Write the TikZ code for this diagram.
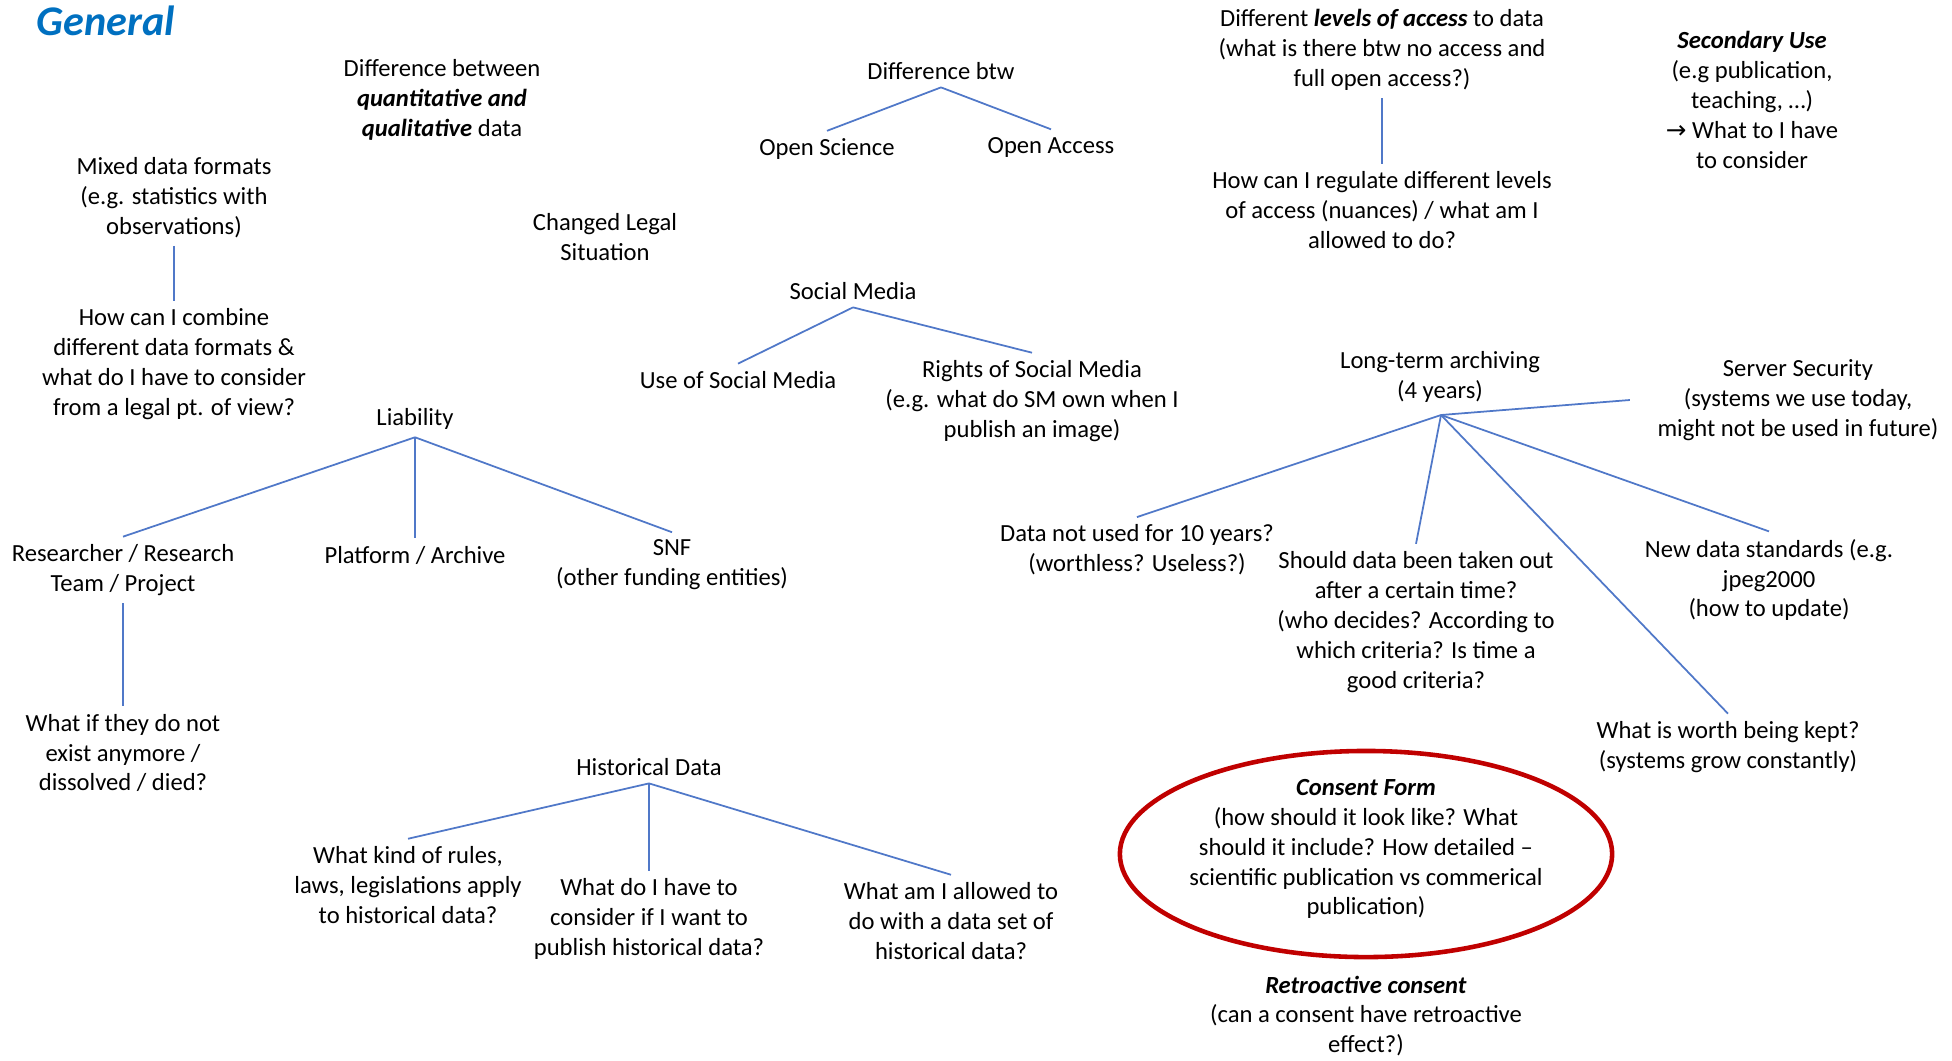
\documentclass[tikz,border=0pt]{standalone}
\usepackage{fontspec}
\setmainfont{Carlito}
\newfontfamily\symfont{DejaVu Sans}
\usepackage{tikz}
\usepackage{xcolor}
\definecolor{LinkBlue}{RGB}{80,120,200}
\definecolor{TitleBlue}{RGB}{0,112,192}
\definecolor{MarkRed}{RGB}{192,0,0}

\begin{document}
\begin{tikzpicture}[x=0.01cm, y=-0.01cm,
  every node/.style={font=\fontsize{7pt}{8.5pt}\selectfont, align=center, inner sep=2pt},
  link/.style={draw=LinkBlue, line width=0.5pt}]
\useasboundingbox (0,0) rectangle (1952,1060);

\node[font=\fontsize{12pt}{14pt}\selectfont\bfseries\itshape, text=TitleBlue] (general) at (106,21) {General};

% left column
\node (quali) at (442,100) {Difference between\\\textbf{\textit{quantitative and}}\\\textbf{\textit{qualitative}} data};
\node (mixed) at (174,198) {Mixed data formats\\(e.g. statistics with\\observations)};
\node (combine) at (174,364) {How can I combine\\different data formats \&\\what do I have to consider\\from a legal pt. of view?};
\node (legal) at (605,237) {Changed Legal\\Situation};

% open science
\node (diffbtw) at (941,71) {Difference btw};
\node (osci) at (827,149) {Open Science};
\node (oacc) at (1051,147) {Open Access};

% social media
\node (social) at (853,291) {Social Media};
\node (useso) at (738,380) {Use of Social Media};
\node (rights) at (1032,401) {Rights of Social Media\\(e.g. what do SM own when I\\publish an image)};

% liability
\node (liab) at (415,419) {Liability};
\node (resea) at (123,570) {Researcher / Research\\Team / Project};
\node (platf) at (415,555) {Platform / Archive};
\node (snf) at (672,565) {SNF\\(other funding entities)};
\node (exist) at (123,753) {What if they do not\\exist anymore /\\dissolved / died?};

% historical data
\node (hist) at (649,767) {Historical Data};
\node (rules) at (408,885) {What kind of rules,\\laws, legislations apply\\to historical data?};
\node (publ) at (649,919) {What do I have to\\consider if I want to\\publish historical data?};
\node (allow) at (951,921) {What am I allowed to\\do with a data set of\\historical data?};

% access levels
\node (levels) at (1382,50) {Different \textbf{\textit{levels of access}} to data\\(what is there btw no access and\\full open access?)};
\node (regul) at (1382,210) {How can I regulate different levels\\of access (nuances) / what am I\\allowed to do?};
\node (second) at (1752,100) {\textbf{\textit{Secondary Use}}\\(e.g publication,\\teaching, …)\\{\symfont →} What to I have\\to consider};

% long-term archiving
\node (archiv) at (1440,377) {Long-term archiving\\(4 years)};
\coordinate (hub) at (1441,415);
\node (server) at (1798,400) {Server Security\\(systems we use today,\\might not be used in future)};
\node (unused) at (1137,550) {Data not used for 10 years?\\(worthless? Useless?)};
\node (takeout) at (1416,622) {Should data been taken out\\after a certain time?\\(who decides? According to\\which criteria? Is time a\\good criteria?};
\node (standard) at (1769,580) {New data standards (e.g.\\jpeg2000\\(how to update)};
\node (worth) at (1728,747) {What is worth being kept?\\(systems grow constantly)};

% consent
\node (consent) at (1366,849) {\textbf{\textit{Consent Form}}\\(how should it look like? What\\should it include? How detailed –\\scientific publication vs commerical\\publication)};
\draw[draw=MarkRed, line width=1.3pt] ([yshift=-0.05cm]consent.center) ellipse [x radius=2.46cm, y radius=1.03cm];
\node (retro) at (1366,1016) {\textbf{\textit{Retroactive consent}}\\(can a consent have retroactive\\effect?)};

\draw[link] (mixed) -- (combine);
\draw[link] (diffbtw.south) -- (osci.north);
\draw[link] (diffbtw.south) -- (oacc.north);
\draw[link] (social.south) -- (useso.north);
\draw[link] (social.south) -- (rights.north);
\draw[link] (liab.south) -- (resea.north);
\draw[link] (liab.south) -- (platf.north);
\draw[link] (liab.south) -- (snf.north);
\draw[link] (resea) -- (exist);
\draw[link] (hist.south) -- (rules.north);
\draw[link] (hist.south) -- (publ.north);
\draw[link] (hist.south) -- (allow.north);
\draw[link] (levels) -- (regul);
\draw[link] (hub) -- ([xshift=-0.2cm]server.west);
\draw[link] (hub) -- (unused.north);
\draw[link] (hub) -- (takeout.north);
\draw[link] (hub) -- (standard.north);
\draw[link] (hub) -- (worth.north);
\end{tikzpicture}
\end{document}
